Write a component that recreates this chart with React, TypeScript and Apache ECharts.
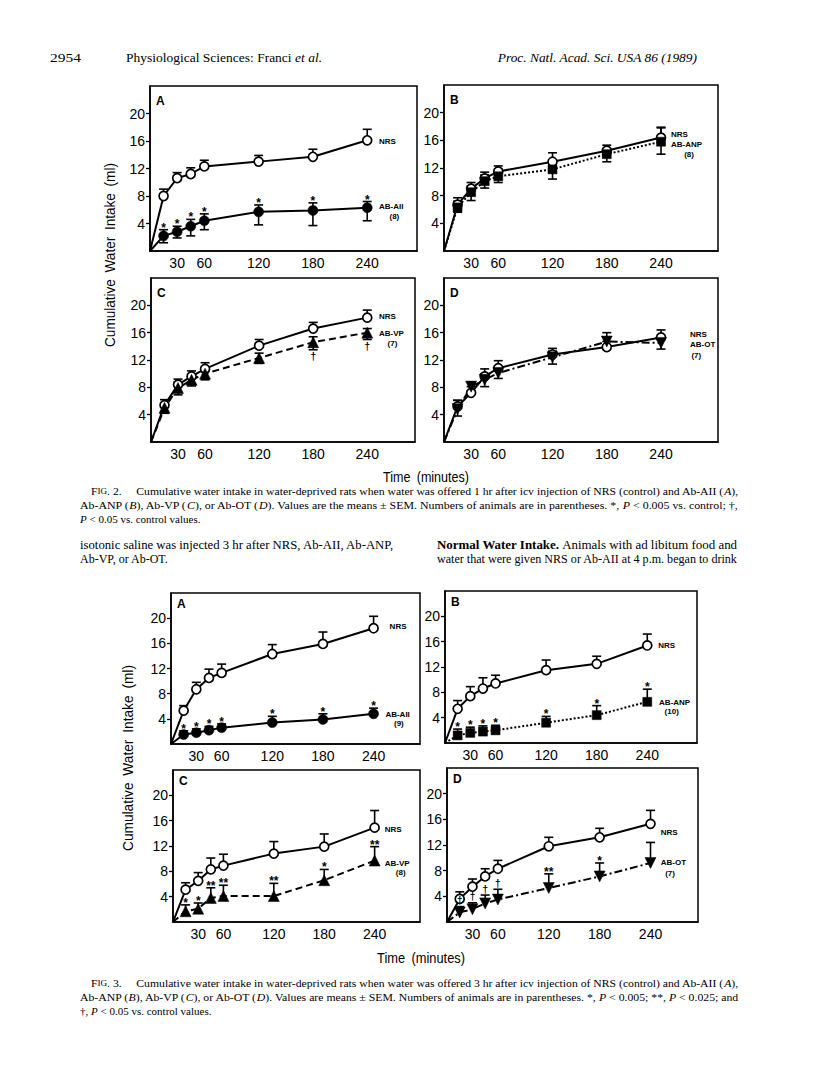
import React, { useEffect, useRef } from "react";
import * as echarts from "echarts";

// ---------- data ----------
const TIMES = [15, 30, 45, 60, 120, 180, 240];
const X_TICK_LABELS = [30, 60, 120, 180, 240];
const Y_TICK_LABELS = [4, 8, 12, 16, 20];

// Fig. 2 (water offered 1 hr after icv injection)
const F2A_NRS = [8.0, 10.6, 11.2, 12.3, 13.0, 13.7, 16.1];
const F2A_NRS_HI = [9.0, 11.4, 12.1, 13.2, 13.9, 14.8, 17.7];
const F2A_AII = [2.2, 2.8, 3.6, 4.4, 5.7, 5.9, 6.3];
const F2A_AII_HI = [3.1, 3.6, 4.6, 5.4, 6.7, 7.0, 7.2];
const F2A_AII_LO = [1.2, 1.9, 2.2, 3.1, 3.8, 3.7, 4.4];
const F2A_SIG = ["*", "*", "*", "*", "*", "*", "*"];

const F2B_NRS = [6.7, 9.0, 10.5, 11.5, 12.9, 14.5, 16.4];
const F2B_NRS_HI = [7.7, 9.9, 11.4, 12.3, 14.2, 15.3, 17.8];
const F2B_ANP = [6.3, 8.5, 10.1, 10.8, 11.8, 14.0, 15.8];
const F2B_ANP_HI = [7.2, 9.4, 11.0, 11.8, 12.6, 14.8, 17.9];
const F2B_ANP_LO = [5.6, 7.3, 9.1, 9.9, 10.4, 12.9, 14.0];

const F2C_NRS = [5.4, 8.4, 9.6, 10.7, 14.1, 16.6, 18.2];
const F2C_NRS_HI = [6.2, 9.2, 10.4, 11.6, 15.0, 17.5, 19.3];
const F2C_VP = [5.0, 7.9, 9.1, 10.0, 12.3, 14.6, 16.0];
const F2C_VP_HI = [5.7, 8.8, 9.9, 10.7, 13.0, 15.4, 16.6];
const F2C_VP_LO = [4.2, 6.9, 8.2, 9.1, 11.5, 13.5, 15.0];
const F2C_SIG = ["", "", "", "", "", "†", "†"];

const F2D_NRS = [5.2, 7.2, 9.6, 10.8, 12.8, 13.9, 15.3];
const F2D_NRS_HI = [6.1, 8.1, 10.7, 11.9, 13.7, 14.7, 16.4];
const F2D_OT = [4.8, 8.1, 9.1, 10.1, 12.4, 14.7, 14.5];
const F2D_OT_HI = [6.1, 8.8, 10.0, 11.0, 13.3, 16.0, 15.2];
const F2D_OT_LO = [3.8, 7.4, 8.1, 9.3, 11.4, 13.9, 13.6];

// Fig. 3 (water offered 3 hr after icv injection)
const F3A_NRS = [5.3, 8.7, 10.5, 11.3, 14.3, 15.9, 18.4];
const F3A_NRS_HI = [6.1, 9.8, 11.9, 12.7, 15.8, 17.8, 20.3];
const F3A_AII = [1.5, 1.8, 2.2, 2.6, 3.4, 3.9, 4.8];
const F3A_AII_HI = [2.1, 2.4, 2.8, 3.2, 4.4, 4.8, 5.7];
const F3A_SIG = ["*", "*", "*", "*", "*", "*", "*"];

const F3B_NRS = [5.4, 7.4, 8.6, 9.4, 11.5, 12.5, 15.4];
const F3B_NRS_HI = [6.7, 8.9, 10.3, 10.7, 13.1, 13.7, 17.2];
const F3B_ANP = [1.2, 1.6, 1.8, 2.0, 3.2, 4.4, 6.5];
const F3B_ANP_HI = [2.2, 2.5, 2.7, 2.8, 4.2, 5.9, 8.5];
const F3B_SIG = ["*", "*", "*", "*", "*", "*", "*"];

const F3C_NRS = [5.1, 6.5, 8.3, 8.9, 10.8, 11.9, 14.9];
const F3C_NRS_HI = [6.2, 7.8, 10.1, 10.7, 12.7, 13.9, 17.6];
const F3C_VP = [1.7, 2.1, 3.8, 4.1, 4.1, 6.6, 9.7];
const F3C_VP_HI = [2.7, 3.0, 5.4, 5.8, 6.1, 8.3, 11.9];
const F3C_SIG = ["*", "*", "**", "**", "**", "*", "**"];

const F3D_NRS = [3.6, 5.5, 7.1, 8.3, 11.8, 13.2, 15.3];
const F3D_NRS_HI = [4.7, 6.7, 8.3, 9.6, 13.2, 14.6, 17.4];
const F3D_OT = [1.5, 2.0, 2.9, 3.5, 5.3, 7.1, 9.2];
const F3D_OT_HI = [2.4, 3.0, 4.2, 5.1, 7.5, 9.2, 12.4];
const F3D_SIG = ["†", "†", "†", "†", "**", "*", ""];

// ---------- page texts ----------
const HEADER_PAGE = "2954";
const HEADER_LEFT = "Physiological Sciences: Franci {i|et al.}";
const HEADER_RIGHT = "{i|Proc. Natl. Acad. Sci. USA 86 (1989)}";
const Y_TITLE = "Cumulative\u2002Water\u2002Intake\u2002(ml)";
const X_TITLE = "Time\u2002(minutes)";
const FIG2_CAPTION = [
  "F{sc|IG}. 2.\u2003 Cumulative water intake in water-deprived rats when water was offered 1 hr after icv injection of NRS (control) and Ab-AII ({i|A}),",
  "Ab-ANP ({i|B}), Ab-VP ({i|C}), or Ab-OT ({i|D}). Values are the means ± SEM. Numbers of animals are in parentheses. *, {i|P} < 0.005 vs. control; †,",
  "{i|P} < 0.05 vs. control values.",
];
const BODY_LEFT = ["isotonic saline was injected 3 hr after NRS, Ab-AII, Ab-ANP,", "Ab-VP, or Ab-OT."];
const BODY_RIGHT = [
  "{b|Normal Water Intake.} Animals with ad libitum food and",
  "water that were given NRS or Ab-AII at 4 p.m. began to drink",
];
const FIG3_CAPTION = [
  "F{sc|IG}. 3.\u2003 Cumulative water intake in water-deprived rats when water was offered 3 hr after icv injection of NRS (control) and Ab-AII ({i|A}),",
  "Ab-ANP ({i|B}), Ab-VP ({i|C}), or Ab-OT ({i|D}). Values are means ± SEM. Numbers of animals are in parentheses. *, {i|P} < 0.005; **, {i|P} < 0.025; and",
  "†, {i|P} < 0.05 vs. control values.",
];

// ---------- styles ----------
const SANS = "'Liberation Sans', Arial, sans-serif";
const SERIF = "'Liberation Serif', 'Times New Roman', serif";
const LBL_FONT = `bold 8px ${SANS}`;
const SOLID = "solid";
const DOTTED = [2, 2];
const DASHED = [7, 4];
const DASHDOT = [8, 3, 2, 3];

const OPEN_CIRCLE = { symbol: "circle", size: 9, filled: false, rotate: 0 };
const DOT = { symbol: "circle", size: 10, filled: true, rotate: 0 };
const SQUARE = { symbol: "rect", size: 9, filled: true, rotate: 0 };
const TRI_UP = { symbol: "triangle", size: 11, filled: true, rotate: 0 };
const TRI_DOWN = { symbol: "triangle", size: 11, filled: true, rotate: 180 };

type Group = {
  vals: number[];
  hi: number[];
  lo?: number[];
  mark: any;
  line: any;
  sig?: string[];
  sigBelow?: boolean;
};
type Label = { x: number; y: number; text: string; align: string };
type Panel = {
  left: number; top: number; width: number; height: number; xMax: number;
  letter: string; letterDy: number; groups: Group[]; labels: Label[];
};

const PANELS: Panel[] = [
  {
    left: 150, top: 86, width: 267, height: 165, xMax: 295, letter: "A", letterDy: 9,
    groups: [
      { vals: F2A_NRS, hi: F2A_NRS_HI, mark: OPEN_CIRCLE, line: SOLID },
      { vals: F2A_AII, hi: F2A_AII_HI, lo: F2A_AII_LO, mark: DOT, line: SOLID, sig: F2A_SIG },
    ],
    labels: [
      { x: 253, y: 16.0, text: "NRS", align: "left" },
      { x: 253, y: 6.5, text: "AB-AII", align: "left" },
      { x: 270, y: 5.0, text: "(8)", align: "center" },
    ],
  },
  {
    left: 444, top: 85, width: 274, height: 166, xMax: 303, letter: "B", letterDy: 9,
    groups: [
      { vals: F2B_NRS, hi: F2B_NRS_HI, mark: OPEN_CIRCLE, line: SOLID },
      { vals: F2B_ANP, hi: F2B_ANP_HI, lo: F2B_ANP_LO, mark: SQUARE, line: DOTTED },
    ],
    labels: [
      { x: 251, y: 16.8, text: "NRS", align: "left" },
      { x: 251, y: 15.4, text: "AB-ANP", align: "left" },
      { x: 271, y: 13.9, text: "(8)", align: "center" },
    ],
  },
  {
    left: 151, top: 278, width: 264, height: 164, xMax: 293, letter: "C", letterDy: 9,
    groups: [
      { vals: F2C_NRS, hi: F2C_NRS_HI, mark: OPEN_CIRCLE, line: SOLID },
      { vals: F2C_VP, hi: F2C_VP_HI, lo: F2C_VP_LO, mark: TRI_UP, line: DASHED, sig: F2C_SIG, sigBelow: true },
    ],
    labels: [
      { x: 253, y: 18.4, text: "NRS", align: "left" },
      { x: 253, y: 15.9, text: "AB-VP", align: "left" },
      { x: 268, y: 14.4, text: "(7)", align: "center" },
    ],
  },
  {
    left: 444, top: 278, width: 274, height: 164, xMax: 303, letter: "D", letterDy: 9,
    groups: [
      { vals: F2D_NRS, hi: F2D_NRS_HI, mark: OPEN_CIRCLE, line: SOLID },
      { vals: F2D_OT, hi: F2D_OT_HI, lo: F2D_OT_LO, mark: TRI_DOWN, line: DASHDOT },
    ],
    labels: [
      { x: 272, y: 15.8, text: "NRS", align: "left" },
      { x: 272, y: 14.3, text: "AB-OT", align: "left" },
      { x: 279, y: 12.6, text: "(7)", align: "center" },
    ],
  },
  {
    left: 171, top: 593, width: 249, height: 151, xMax: 295, letter: "A", letterDy: 5,
    groups: [
      { vals: F3A_NRS, hi: F3A_NRS_HI, mark: OPEN_CIRCLE, line: SOLID },
      { vals: F3A_AII, hi: F3A_AII_HI, mark: DOT, line: SOLID, sig: F3A_SIG },
    ],
    labels: [
      { x: 259, y: 18.6, text: "NRS", align: "left" },
      { x: 254, y: 4.7, text: "AB-AII", align: "left" },
      { x: 270, y: 3.2, text: "(9)", align: "center" },
    ],
  },
  {
    left: 445, top: 591, width: 252, height: 152, xMax: 299, letter: "B", letterDy: 5,
    groups: [
      { vals: F3B_NRS, hi: F3B_NRS_HI, mark: OPEN_CIRCLE, line: SOLID },
      { vals: F3B_ANP, hi: F3B_ANP_HI, mark: SQUARE, line: DOTTED, sig: F3B_SIG },
    ],
    labels: [
      { x: 253, y: 15.4, text: "NRS", align: "left" },
      { x: 254, y: 6.4, text: "AB-ANP", align: "left" },
      { x: 269, y: 4.9, text: "(10)", align: "center" },
    ],
  },
  {
    left: 173, top: 770, width: 247, height: 152, xMax: 294, letter: "C", letterDy: 5,
    groups: [
      { vals: F3C_NRS, hi: F3C_NRS_HI, mark: OPEN_CIRCLE, line: SOLID },
      { vals: F3C_VP, hi: F3C_VP_HI, mark: TRI_UP, line: DASHED, sig: F3C_SIG },
    ],
    labels: [
      { x: 252, y: 14.6, text: "NRS", align: "left" },
      { x: 252, y: 9.3, text: "AB-VP", align: "left" },
      { x: 271, y: 7.8, text: "(8)", align: "center" },
    ],
  },
  {
    left: 447, top: 768, width: 251, height: 154, xMax: 296, letter: "D", letterDy: 5,
    groups: [
      { vals: F3D_NRS, hi: F3D_NRS_HI, mark: OPEN_CIRCLE, line: SOLID },
      { vals: F3D_OT, hi: F3D_OT_HI, mark: TRI_DOWN, line: DASHDOT, sig: F3D_SIG },
    ],
    labels: [
      { x: 252, y: 13.9, text: "NRS", align: "left" },
      { x: 252, y: 9.3, text: "AB-OT", align: "left" },
      { x: 263, y: 7.6, text: "(7)", align: "center" },
    ],
  },
];

// ---------- helpers ----------
function errorBarRender(_params: any, api: any) {
  const x = api.value(0);
  const y = api.value(1);
  const hi = api.value(2);
  const lo = api.value(3);
  const top = api.coord([x, hi]);
  const bot = api.coord([x, lo]);
  const w = 4.5;
  const st = { stroke: "#000", lineWidth: 1.6, fill: null };
  const children: any[] = [
    { type: "line", shape: { x1: top[0], y1: top[1], x2: bot[0], y2: bot[1] }, style: st },
    { type: "line", shape: { x1: top[0] - w, y1: top[1], x2: top[0] + w, y2: top[1] }, style: st },
  ];
  if (lo < y) {
    children.push({ type: "line", shape: { x1: bot[0] - w, y1: bot[1], x2: bot[0] + w, y2: bot[1] }, style: st });
  }
  return { type: "group", children };
}

type TextItem = { x: number; y: number; text: string; font: string; align: string; valign: string; dx: number; dy: number };

function textSeries(items: TextItem[], idx: number) {
  return {
    type: "custom",
    xAxisIndex: idx,
    yAxisIndex: idx,
    silent: true,
    z: 6,
    data: items.map((it) => [it.x, it.y]),
    renderItem: (params: any, api: any) => {
      const it = items[params.dataIndex];
      const p = api.coord([it.x, it.y]);
      return {
        type: "text",
        x: p[0] + it.dx,
        y: p[1] + it.dy,
        style: {
          text: it.text,
          font: it.font,
          fill: "#000",
          align: it.align,
          verticalAlign: it.valign,
          textAlign: it.align,
          textVerticalAlign: it.valign,
        },
      };
    },
  };
}

function fontFor(st: string, size: number, family: string) {
  if (st === "i") return `italic ${size}px ${family}`;
  if (st === "b") return `bold ${size}px ${family}`;
  if (st === "sc") return `${(size * 0.78).toFixed(2)}px ${family}`;
  return `${size}px ${family}`;
}

function measure(ctx: CanvasRenderingContext2D | null, markup: string, size: number, family: string) {
  if (!ctx) return 0;
  const re = /\{(\w+)\|([^}]*)\}/g;
  let last = 0;
  let m: RegExpExecArray | null;
  let w = 0;
  const seg = (t: string, st: string) => {
    ctx.font = fontFor(st, size, family);
    w += ctx.measureText(t).width;
  };
  while ((m = re.exec(markup))) {
    if (m.index > last) seg(markup.slice(last, m.index), "n");
    seg(m[2], m[1]);
    last = re.lastIndex;
  }
  if (last < markup.length) seg(markup.slice(last), "n");
  return w;
}

function pageText(
  ctx: CanvasRenderingContext2D | null,
  markup: string,
  x: number,
  y: number,
  size: number,
  family: string,
  align: string,
  targetWidth?: number,
  rotation?: number
) {
  let sx = 1;
  if (targetWidth) {
    const w = measure(ctx, markup, size, family);
    if (w > 0) sx = targetWidth / w;
  }
  return {
    type: "text",
    x,
    y,
    scaleX: sx,
    rotation: rotation || 0,
    silent: true,
    style: {
      text: markup,
      fontSize: size,
      fontFamily: family,
      fill: "#000",
      textAlign: align,
      textVerticalAlign: "middle",
      align,
      verticalAlign: "middle",
      rich: {
        i: { fontStyle: "italic", fontSize: size, fontFamily: family, fill: "#000" },
        b: { fontWeight: "bold", fontSize: size, fontFamily: family, fill: "#000" },
        sc: { fontSize: size * 0.78, fontFamily: family, fill: "#000" },
      },
    },
  };
}

function buildOption() {
  const canvas = document.createElement("canvas");
  const ctx = canvas.getContext("2d");

  const grid: any[] = [];
  const xAxis: any[] = [];
  const yAxis: any[] = [];
  const series: any[] = [];
  const graphic: any[] = [];

  PANELS.forEach((p, i) => {
    grid.push({
      left: p.left, top: p.top, width: p.width, height: p.height,
      show: true, borderColor: "#000", borderWidth: 1.5, backgroundColor: "transparent",
    });
    xAxis.push({
      type: "value", gridIndex: i, min: 0, max: p.xMax,
      axisLine: { show: true, lineStyle: { color: "#000", width: 1.5 } },
      axisTick: { show: false },
      splitLine: { show: false },
      axisLabel: {
        customValues: X_TICK_LABELS, color: "#000", fontFamily: SANS, fontSize: 14, margin: 5,
        hideOverlap: false,
      },
    });
    yAxis.push({
      type: "value", gridIndex: i, min: 0, max: 24, interval: 4,
      axisLine: { show: true, lineStyle: { color: "#000", width: 1.5 } },
      axisTick: { show: true, inside: false, length: 4, customValues: Y_TICK_LABELS, lineStyle: { color: "#000", width: 1.3 } },
      splitLine: { show: false },
      axisLabel: {
        customValues: Y_TICK_LABELS, color: "#000", fontFamily: SANS, fontSize: 14, margin: 5,
        formatter: (v: number) => (v === 0 || v === 24 ? "" : String(v)),
      },
    });

    p.groups.forEach((g) => {
      series.push({
        type: "line", xAxisIndex: i, yAxisIndex: i, silent: true, z: 2,
        data: [[0, 0], ...TIMES.map((t, k) => [t, g.vals[k]])],
        showSymbol: false, symbol: "none",
        lineStyle: { color: "#000", width: 2, type: g.line },
      });
    });
    p.groups.forEach((g) => {
      series.push({
        type: "custom", xAxisIndex: i, yAxisIndex: i, silent: true, z: 3,
        data: TIMES.map((t, k) => [t, g.vals[k], g.hi[k], g.lo ? g.lo[k] : g.vals[k]]),
        renderItem: errorBarRender,
      });
    });
    p.groups.forEach((g) => {
      series.push({
        type: "scatter", xAxisIndex: i, yAxisIndex: i, silent: true, z: 4,
        data: TIMES.map((t, k) => [t, g.vals[k]]),
        symbol: g.mark.symbol, symbolSize: g.mark.size, symbolRotate: g.mark.rotate,
        itemStyle: g.mark.filled
          ? { color: "#000", borderColor: "#000", borderWidth: 0.5, opacity: 1 }
          : { color: "#fff", borderColor: "#000", borderWidth: 1.7, opacity: 1 },
      });
    });

    const items: TextItem[] = [];
    p.labels.forEach((l) =>
      items.push({ x: l.x, y: l.y, text: l.text, font: LBL_FONT, align: l.align, valign: "middle", dx: 0, dy: 0 })
    );
    p.groups.forEach((g) => {
      if (!g.sig) return;
      g.sig.forEach((s, k) => {
        if (!s) return;
        const isDagger = s === "†";
        const font = isDagger ? `bold 10px ${SANS}` : `bold 12px ${SANS}`;
        if (g.sigBelow) {
          items.push({ x: TIMES[k], y: g.lo ? g.lo[k] : g.vals[k], text: s, font, align: "center", valign: "top", dx: 0, dy: 2 });
        } else {
          items.push({ x: TIMES[k], y: g.hi[k], text: s, font, align: "center", valign: "bottom", dx: 0, dy: isDagger ? -1 : 4 });
        }
      });
    });
    series.push(textSeries(items, i));

    graphic.push({
      type: "text", x: p.left + 6, y: p.top + p.letterDy, silent: true,
      style: { text: p.letter, font: `bold 12px ${SANS}`, fill: "#000", textAlign: "left", textVerticalAlign: "top", align: "left", verticalAlign: "top" },
    });
  });

  // header
  graphic.push(pageText(ctx, HEADER_PAGE, 50, 58, 12.5, SERIF, "left", 31));
  graphic.push(pageText(ctx, HEADER_LEFT, 126, 58, 12.5, SERIF, "left", 196));
  graphic.push(pageText(ctx, HEADER_RIGHT, 697, 58, 12.5, SERIF, "right", 200));

  // axis titles
  graphic.push(pageText(ctx, Y_TITLE, 110, 255, 14, SANS, "center", 184, Math.PI / 2));
  graphic.push(pageText(ctx, X_TITLE, 426, 477, 14, SANS, "center", 86));
  graphic.push(pageText(ctx, Y_TITLE, 128, 758, 14, SANS, "center", 186, Math.PI / 2));
  graphic.push(pageText(ctx, X_TITLE, 421, 958, 14, SANS, "center", 88));

  // captions and body text
  graphic.push(pageText(ctx, FIG2_CAPTION[0], 91, 491, 11, SERIF, "left", 647));
  graphic.push(pageText(ctx, FIG2_CAPTION[1], 80, 505, 11, SERIF, "left", 658));
  graphic.push(pageText(ctx, FIG2_CAPTION[2], 80, 519, 11, SERIF, "left"));
  graphic.push(pageText(ctx, BODY_LEFT[0], 80, 545, 12, SERIF, "left", 315));
  graphic.push(pageText(ctx, BODY_LEFT[1], 80, 559, 12, SERIF, "left"));
  graphic.push(pageText(ctx, BODY_RIGHT[0], 437, 545, 12, SERIF, "left", 301));
  graphic.push(pageText(ctx, BODY_RIGHT[1], 437, 559, 12, SERIF, "left", 301));
  graphic.push(pageText(ctx, FIG3_CAPTION[0], 91, 983, 11, SERIF, "left", 647));
  graphic.push(pageText(ctx, FIG3_CAPTION[1], 80, 997, 11, SERIF, "left", 658));
  graphic.push(pageText(ctx, FIG3_CAPTION[2], 80, 1011, 11, SERIF, "left"));

  return {
    animation: false,
    backgroundColor: "#fff",
    grid,
    xAxis,
    yAxis,
    series,
    graphic,
  };
}

export default function App() {
  const ref = useRef<HTMLDivElement>(null);
  useEffect(() => {
    if (!ref.current) return;
    const chart = echarts.init(ref.current, null, { renderer: "svg" });
    chart.setOption(buildOption() as any);
    return () => chart.dispose();
  }, []);
  return (
    <div
      ref={ref}
      style={{ position: "absolute", left: 0, top: 0, width: 816, height: 1076, background: "#fff" }}
    />
  );
}
